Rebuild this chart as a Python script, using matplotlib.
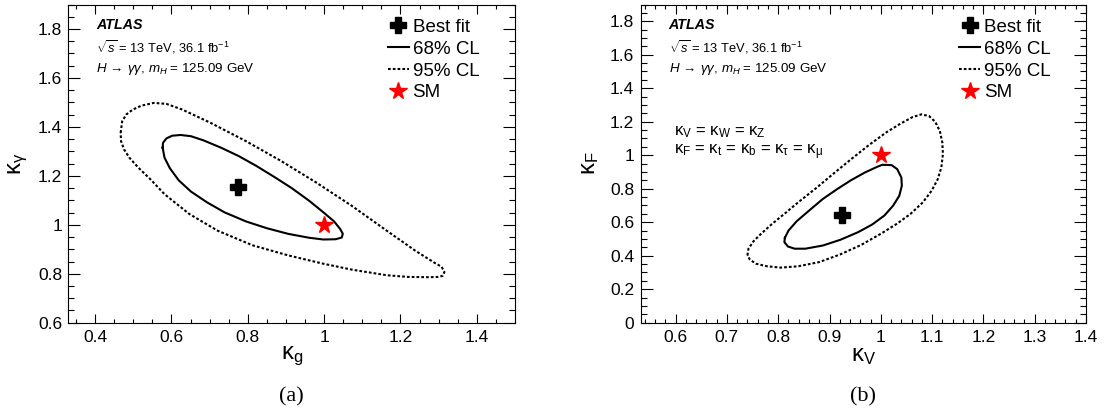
import matplotlib
matplotlib.use("Agg")
import matplotlib.pyplot as plt
from matplotlib.lines import Line2D
from matplotlib.ticker import MultipleLocator, FuncFormatter

plt.rcParams['font.family'] = ['Liberation Sans', 'DejaVu Sans']
plt.rcParams['mathtext.fontset'] = 'custom'
plt.rcParams['mathtext.rm'] = 'Liberation Sans'
plt.rcParams['mathtext.it'] = 'Liberation Sans:italic'
plt.rcParams['mathtext.bf'] = 'Liberation Sans:bold'

# (a) kappa_g vs kappa_gamma contours
kg_68 = [0.577, 0.578, 0.587, 0.602, 0.624, 0.651, 0.684, 0.730, 0.776, 0.822, 0.869, 0.915, 0.961, 0.998,
         1.026, 1.042, 1.049, 1.046, 1.030, 0.998, 0.961, 0.906, 0.850, 0.795, 0.739, 0.693, 0.651, 0.619,
         0.596, 0.582, 0.577]
kgam_68 = [1.315, 1.335, 1.353, 1.364, 1.367, 1.362, 1.345, 1.315, 1.281, 1.241, 1.196, 1.150, 1.098, 1.051,
           1.014, 0.983, 0.963, 0.948, 0.941, 0.940, 0.947, 0.963, 0.986, 1.014, 1.051, 1.092, 1.136, 1.182,
           1.231, 1.274, 1.315]
kg_95 = [0.467, 0.471, 0.482, 0.499, 0.522, 0.554, 0.587, 0.628, 0.702, 0.795, 0.887, 0.979, 1.072, 1.164,
         1.238, 1.289, 1.308, 1.315, 1.311, 1.299, 1.275, 1.220, 1.164, 1.072, 0.998, 0.906, 0.813, 0.721,
         0.647, 0.582, 0.545, 0.513, 0.490, 0.476, 0.468, 0.467]
kgam_95 = [1.376, 1.423, 1.451, 1.471, 1.487, 1.498, 1.494, 1.471, 1.417, 1.342, 1.261, 1.173, 1.078, 0.976,
           0.895, 0.845, 0.828, 0.807, 0.792, 0.787, 0.786, 0.787, 0.794, 0.817, 0.841, 0.875, 0.916, 0.976,
           1.044, 1.125, 1.186, 1.234, 1.274, 1.308, 1.342, 1.376]
best_a = (0.775, 1.155)

# (b) kappa_V vs kappa_F contours
kv_68 = [0.813, 0.820, 0.836, 0.860, 0.887, 0.915, 0.942, 0.969, 0.993, 1.003, 1.021, 1.032, 1.040, 1.041,
         1.036, 1.024, 1.007, 0.983, 0.956, 0.921, 0.887, 0.853, 0.832, 0.819, 0.812, 0.813]
kf_68 = [0.507, 0.550, 0.606, 0.669, 0.739, 0.798, 0.851, 0.897, 0.931, 0.943, 0.941, 0.917, 0.867, 0.818,
         0.758, 0.699, 0.640, 0.586, 0.541, 0.495, 0.461, 0.442, 0.442, 0.455, 0.481, 0.507]
kv_95 = [0.740, 0.742, 0.752, 0.768, 0.788, 0.812, 0.839, 0.874, 0.908, 0.942, 0.976, 1.010, 1.038, 1.062,
         1.079, 1.094, 1.106, 1.115, 1.120, 1.121, 1.118, 1.111, 1.099, 1.082, 1.058, 1.031, 1.000, 0.962,
         0.921, 0.880, 0.839, 0.805, 0.778, 0.757, 0.745, 0.740]
kf_95 = [0.402, 0.442, 0.487, 0.535, 0.590, 0.650, 0.719, 0.804, 0.891, 0.976, 1.059, 1.135, 1.188, 1.228,
         1.244, 1.234, 1.200, 1.145, 1.075, 1.006, 0.927, 0.857, 0.788, 0.719, 0.650, 0.590, 0.531, 0.465,
         0.408, 0.362, 0.337, 0.329, 0.337, 0.352, 0.376, 0.402]
best_b = (0.925, 0.646)
sm = (1.0, 1.0)

fig = plt.figure(figsize=(11.04, 4.13), dpi=100)
ax1 = fig.add_axes([0.0619, 0.2186, 0.4046, 0.7705])
ax2 = fig.add_axes([0.5802, 0.2186, 0.4035, 0.7705])

dotted = (0, (1.3, 1.0))
fmt = FuncFormatter(lambda v, p: '%g' % v)


def style(ax, xmaj, xmin, ymaj, ymin):
    ax.xaxis.set_major_locator(MultipleLocator(xmaj))
    ax.xaxis.set_minor_locator(MultipleLocator(xmin))
    ax.yaxis.set_major_locator(MultipleLocator(ymaj))
    ax.yaxis.set_minor_locator(MultipleLocator(ymin))
    ax.xaxis.set_major_formatter(fmt)
    ax.yaxis.set_major_formatter(fmt)
    ax.tick_params(which='both', direction='in', top=True, right=True, width=0.8, labelsize=12.5)
    ax.tick_params(axis='x', which='major', length=6.3, pad=5)
    ax.tick_params(axis='x', which='minor', length=3.1)
    ax.tick_params(axis='y', which='major', length=8.4, pad=4.5)
    ax.tick_params(axis='y', which='minor', length=4.2)
    for s in ax.spines.values():
        s.set_linewidth(0.8)


def decorate(ax):
    ax.text(0.063, 0.936, 'ATLAS', transform=ax.transAxes, fontsize=10.3, fontweight='bold',
            fontstyle='italic', va='center')
    ax.text(0.063, 0.867, r'$\sqrt{s}$ = 13 TeV, 36.1 fb$^{-1}$', transform=ax.transAxes,
            fontsize=9.3, va='center')
    ax.text(0.063, 0.797, r'$H\,\rightarrow\,\gamma\gamma$, $m_H$ = 125.09 GeV', transform=ax.transAxes,
            fontsize=9.6, va='center')
    handles = [Line2D([], [], marker='P', ls='none', color='k', ms=12),
               Line2D([], [], color='k', lw=1.5),
               Line2D([], [], color='k', lw=1.5, ls=dotted),
               Line2D([], [], marker='*', ls='none', color='red', ms=13)]
    ax.legend(handles, ['Best fit', '68% CL', '95% CL', 'SM'], loc='upper left',
              bbox_to_anchor=(0.716, 0.955), frameon=False, fontsize=13.5, borderpad=0,
              borderaxespad=0, handlelength=1.1, handletextpad=0.2, labelspacing=0.25)


# panel (a)
ax1.plot(kg_68, kgam_68, color='k', lw=1.5)
ax1.plot(kg_95, kgam_95, color='k', lw=1.5, ls=dotted)
ax1.plot(*best_a, marker='P', color='k', ms=12, ls='none')
ax1.plot(*sm, marker='*', color='red', ms=13, ls='none')
ax1.set_xlim(0.33, 1.5)
ax1.set_ylim(0.6, 1.9)
style(ax1, 0.2, 0.05, 0.2, 0.05)
decorate(ax1)
ax1.set_xlabel('κ$_{\\mathrm{g}}$', fontsize=17)
ax1.set_ylabel('κ$_{\\mathrm{γ}}$', fontsize=17)
ax1.xaxis.set_label_coords(0.5, -0.07)
ax1.yaxis.set_label_coords(-0.085, 0.5)

# panel (b)
ax2.plot(kv_68, kf_68, color='k', lw=1.5)
ax2.plot(kv_95, kf_95, color='k', lw=1.5, ls=dotted)
ax2.plot(*best_b, marker='P', color='k', ms=12, ls='none')
ax2.plot(*sm, marker='*', color='red', ms=13, ls='none')
ax2.set_xlim(0.5316, 1.4)
ax2.set_ylim(0, 1.9)
style(ax2, 0.1, 0.02, 0.2, 0.05)
decorate(ax2)
ax2.text(0.597, 1.139, 'κ$_{\\mathrm{V}}$ = κ$_{\\mathrm{W}}$ = κ$_{\\mathrm{Z}}$', fontsize=12, va='center')
ax2.text(0.597, 1.016, 'κ$_{\\mathrm{F}}$ = κ$_{\\mathrm{t}}$ = κ$_{\\mathrm{b}}$ = κ$_{\\mathrm{τ}}$ = κ$_{\\mathrm{μ}}$',
         fontsize=12, va='center')
ax2.set_xlabel('κ$_{\\mathrm{V}}$', fontsize=17)
ax2.set_ylabel('κ$_{\\mathrm{F}}$', fontsize=17)
ax2.xaxis.set_label_coords(0.5, -0.07)
ax2.yaxis.set_label_coords(-0.088, 0.5)

fig.text(0.2641, 0.04, '(a)', fontsize=16, family='Liberation Serif', ha='center', va='center')
fig.text(0.7820, 0.04, '(b)', fontsize=16, family='Liberation Serif', ha='center', va='center')

fig.savefig('out.png', dpi=100)
